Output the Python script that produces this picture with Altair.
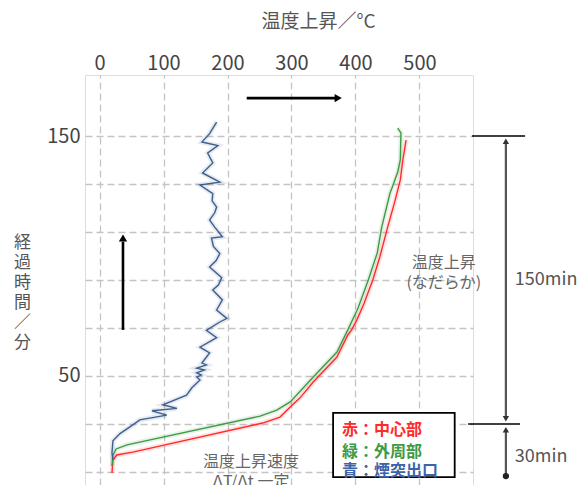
import altair as alt
import pandas as pd

FONT = "Noto Sans CJK JP"

# ---- data (time / minutes, temperature rise / °C) ----
red_t = [9.6, 15, 17.1, 18.3, 30.4, 32.9, 37.1, 40.8, 47.5, 57.9, 67.1, 69.2, 73.3, 80, 90, 99.6, 110.8, 123.3, 131.7, 140, 148.3]
red_T = [19.5, 21, 27, 52, 255, 282, 298, 313, 334, 371, 388, 394, 402, 413, 427, 438, 449, 462, 470, 474, 479]

green_t = [12.5, 17, 19.6, 21.3, 33.3, 35.8, 39.2, 49.6, 60, 69.2, 78.3, 90, 101.3, 112, 126.3, 128.3, 135, 140, 151.3, 153.3]
green_T = [19.5, 21, 26, 43, 251, 277, 298, 334, 371, 388, 404, 420, 434, 441, 454, 457, 466, 470, 471, 466]

blue_t = [15, 18, 23, 26, 28.7, 31.7, 33.7, 35.5, 36.5, 38, 42, 45, 48.3, 49.6, 50.4, 51.3, 52.5, 53.3, 54.6, 55.4,
          59.6, 62, 66, 69, 72.5, 74, 77.5, 81.7, 85.8, 88, 91, 95.4, 98, 101, 104, 107.5, 108, 112, 115, 118,
          120.4, 123, 126, 129.6, 130.8, 134.6, 138.8, 142.9, 146, 147.5, 151, 155.8]
blue_T = [21, 19.5, 21, 32, 47, 63, 105, 82, 121, 99, 136, 144, 157, 152, 159, 152, 164, 152, 167, 160,
          172, 157, 183, 167, 188, 199, 183, 192, 177, 186, 191, 172, 182, 188, 178, 175, 192, 180, 172, 180,
          183, 176, 177, 157, 188, 161, 177, 169, 185, 160, 172, 183]

x_ticks = [0, 100, 200, 300, 400, 500]
y_ticks = [10, 20, 30, 40, 50, 60, 70, 80, 90, 100, 110, 120, 130, 140, 150, 160]

legend_lines = ["赤：中心部", "緑：外周部", "青：煙突出口"]
legend_colors = ["#ff2a2a", "#3e9a44", "#3d63a8"]

# ---- tables ----
rows = []
for name, ts, Ts in [("red", red_t, red_T), ("green", green_t, green_T), ("blue", blue_t, blue_T)]:
    for i, (t, T) in enumerate(zip(ts, Ts)):
        rows.append({"series": name, "t": t, "T": T, "i": i})
df = pd.DataFrame(rows)

xs = alt.Scale(domain=[-22.66, 583.6], nice=False, zero=False)
ys = alt.Scale(domain=[4.583, 175.417], nice=False, zero=False)

grid_kw = dict(grid=True, gridColor="#c4c4c4", gridDash=[7, 4], gridWidth=1.3,
               ticks=False, domain=False, labelOverlap=False,
               labelFont=FONT, labelFontSize=20, labelColor="#444444",
               titleFont=FONT, titleColor="#555555", titleFontWeight="normal")

base = alt.Chart(df)

color_scale = alt.Scale(domain=["red", "green", "blue"], range=["#ff2a2a", "#3e9a44", "#3f5f8f"])

halo = base.mark_line(strokeWidth=5, opacity=0.13).encode(
    x=alt.X("T:Q", scale=xs, axis=alt.Axis(orient="top", values=x_ticks, labelPadding=2,
                                            title="温度上昇／°C", titleFontSize=19,
                                            titleX=233, titleY=-54, titleBaseline="middle",
                                            titleAlign="center", **grid_kw)),
    y=alt.Y("t:Q", scale=ys, axis=alt.Axis(orient="left", values=y_ticks, labelPadding=5,
                                            labelExpr="datum.value % 50 == 0 ? datum.label : ''",
                                            title=["経", "過", "時", "間", "／", "分"], titleFontSize=17,
                                            titleAngle=0, titleX=-63, titleY=159, titleBaseline="top",
                                            titleAlign="center", titleLineHeight=20, **grid_kw)),
    color=alt.Color("series:N", scale=color_scale, legend=None),
    detail="series:N",
    order="i:Q",
)
lines = base.mark_line(strokeWidth=1.4).encode(
    x=alt.X("T:Q", scale=xs), y=alt.Y("t:Q", scale=ys),
    color=alt.Color("series:N", scale=color_scale, legend=None),
    detail="series:N", order="i:Q",
)

# ---- annotations (data coordinates) ----
seg = pd.DataFrame([
    {"x": 230, "x2": 368, "y": 165.8, "y2": 165.8, "c": "black", "w": 2.6},   # top arrow
    {"x": 36.7, "x2": 36.7, "y": 69.2, "y2": 106, "c": "black", "w": 2.6},   # vertical arrow
    {"x": 582, "x2": 665, "y": 150, "y2": 150, "c": "black", "w": 1.6},
    {"x": 576, "x2": 657, "y": 30, "y2": 30, "c": "black", "w": 1.6},
    {"x": 635, "x2": 635, "y": 32, "y2": 148, "c": "#555555", "w": 2.2},
    {"x": 635, "x2": 635, "y": 8.3, "y2": 28, "c": "#555555", "w": 2.2},
])
segs = alt.Chart(seg).mark_rule().encode(
    x=alt.X("x:Q", scale=xs), x2="x2:Q", y=alt.Y("y:Q", scale=ys), y2="y2:Q",
    color=alt.Color("c:N", scale=None), strokeWidth=alt.StrokeWidth("w:Q", scale=None),
)

heads = pd.DataFrame([
    {"x": 373, "y": 165.8, "s": "triangle-right", "c": "black", "z": 70},
    {"x": 36.7, "y": 107.5, "s": "triangle-up", "c": "black", "z": 70},
    {"x": 635, "y": 147.8, "s": "triangle-up", "c": "#333333", "z": 40},
    {"x": 635, "y": 32.2, "s": "triangle-down", "c": "#333333", "z": 40},
    {"x": 635, "y": 27.6, "s": "triangle-up", "c": "#333333", "z": 40},
    {"x": 635, "y": 8.3, "s": "circle", "c": "#222222", "z": 40},
])
heads_m = alt.Chart(heads).mark_point(filled=True, opacity=1).encode(
    x=alt.X("x:Q", scale=xs), y=alt.Y("y:Q", scale=ys),
    shape=alt.Shape("s:N", scale=None), color=alt.Color("c:N", scale=None),
    size=alt.Size("z:Q", scale=None),
)

notes = pd.DataFrame([
    {"x": 538, "y": 97.1, "txt": "温度上昇", "a": "center", "fs": 16, "c": "#666666"},
    {"x": 538, "y": 88.75, "txt": "(なだらか)", "a": "center", "fs": 16, "c": "#666666"},
    {"x": 649, "y": 90, "txt": "150min", "a": "left", "fs": 18, "c": "#555555"},
    {"x": 649, "y": 16.25, "txt": "30min", "a": "left", "fs": 18, "c": "#555555"},
    {"x": 236.7, "y": 14.2, "txt": "温度上昇速度", "a": "center", "fs": 16, "c": "#666666"},
    {"x": 236.7, "y": 6.0, "txt": "ΔT/Δt 一定", "a": "center", "fs": 16, "c": "#666666"},
])
note_layers = []
for _, r in notes.iterrows():
    note_layers.append(
        alt.Chart(pd.DataFrame([r])).mark_text(align=r["a"], baseline="middle", font=FONT,
                                               fontSize=int(r["fs"]), color=r["c"]).encode(
            x=alt.X("x:Q", scale=xs), y=alt.Y("y:Q", scale=ys), text="txt:N")
    )

box = alt.Chart(pd.DataFrame([{"x": 365, "x2": 555, "y": 7.9, "y2": 34.6}])).mark_rect(
    fill="white", stroke="black", strokeWidth=1.8).encode(
    x=alt.X("x:Q", scale=xs), x2="x2:Q", y=alt.Y("y:Q", scale=ys), y2="y2:Q")

leg = pd.DataFrame({"x": [379] * 3, "y": [27.5, 18.3, 10.4], "txt": legend_lines, "c": legend_colors})
leg_text = alt.Chart(leg).mark_text(align="left", baseline="middle", font=FONT, fontSize=16,
                                    fontWeight="bold").encode(
    x=alt.X("x:Q", scale=xs), y=alt.Y("y:Q", scale=ys), text="txt:N",
    color=alt.Color("c:N", scale=None))

chart = alt.layer(halo, lines, segs, heads_m, *note_layers, box, leg_text).properties(
    width=388, height=410,
    autosize=alt.AutoSizeParams(type="none"),
    padding={"left": 85, "top": 75, "right": 108, "bottom": 0},
    background="white",
).configure_view(stroke=None).configure(font=FONT)

chart.save("out.html", embed_options={"renderer": "svg", "actions": False})
